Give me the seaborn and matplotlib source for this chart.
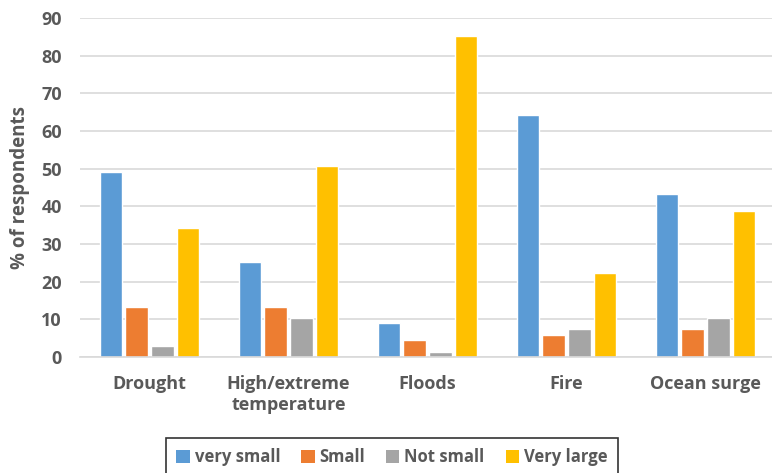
import matplotlib
matplotlib.use("Agg")
import matplotlib.pyplot as plt
import seaborn as sns
import pandas as pd
from matplotlib.patches import Patch

categories = ["Drought", "High/extreme\ntemperature", "Floods", "Fire", "Ocean surge"]
series_names = ["very small", "Small", "Not small", "Very large"]
very_small = [49.2, 25.3, 8.9, 64.2, 43.3]
small = [13.4, 13.4, 4.4, 5.9, 7.4]
not_small = [2.9, 10.4, 1.4, 7.4, 10.4]
very_large = [34.3, 50.7, 85.2, 22.3, 38.8]
colors = ["#5B9BD5", "#ED7D31", "#A5A5A5", "#FFC000"]
yticks = [0, 10, 20, 30, 40, 50, 60, 70, 80, 90]

rows = []
for name, vals in zip(series_names, [very_small, small, not_small, very_large]):
    for c, v in zip(categories, vals):
        rows.append({"cat": c, "series": name, "value": v})
df = pd.DataFrame(rows)

sns.set_theme(style="white")
plt.rcParams["font.family"] = ["Open Sans", "DejaVu Sans"]
txt = "#595959"

fig = plt.figure(figsize=(7.72, 4.73), dpi=100)
ax = fig.add_axes([80/772, 1-357/473, 695/772, 339/473])
sns.barplot(data=df, x="cat", y="value", hue="series", order=categories,
            hue_order=series_names, palette=colors, width=0.74, gap=0.12,
            saturation=1, ax=ax, legend=False, errorbar=None)

ax.set_xlim(-0.5, 4.5)
ax.set_ylim(0, 90)
ax.set_yticks(yticks)
ax.yaxis.grid(True, color="#D9D9D9", linewidth=1.2)
ax.set_axisbelow(True)
for s in ["top", "right", "left"]:
    ax.spines[s].set_visible(False)
ax.spines["bottom"].set_color("#D9D9D9")
ax.spines["bottom"].set_linewidth(1.2)
ax.tick_params(axis="both", length=0, labelsize=13, colors=txt)
ax.tick_params(axis="y", pad=13)
ax.tick_params(axis="x", pad=13)
for lab in ax.get_xticklabels() + ax.get_yticklabels():
    lab.set_fontweight("bold")
    lab.set_color(txt)
ax.set_xlabel("")
ax.set_ylabel("% of respondents", fontsize=13.5, fontweight="bold", color=txt)
ax.yaxis.set_label_coords(-0.072, 0.5)

handles = [Patch(facecolor=c, edgecolor="none") for c in colors]
leg = fig.legend(handles, series_names, loc="upper center",
                 bbox_to_anchor=(392/772, 1-438/473), ncol=4, frameon=True,
                 fancybox=False, edgecolor="black", fontsize=12,
                 handlelength=0.8, handleheight=0.8, handletextpad=0.3,
                 columnspacing=1.25, borderpad=0.6, borderaxespad=0)
leg.get_frame().set_linewidth(1.2)
for t in leg.get_texts():
    t.set_color(txt)
    t.set_fontweight("bold")

fig.savefig("out.png", dpi=100)
